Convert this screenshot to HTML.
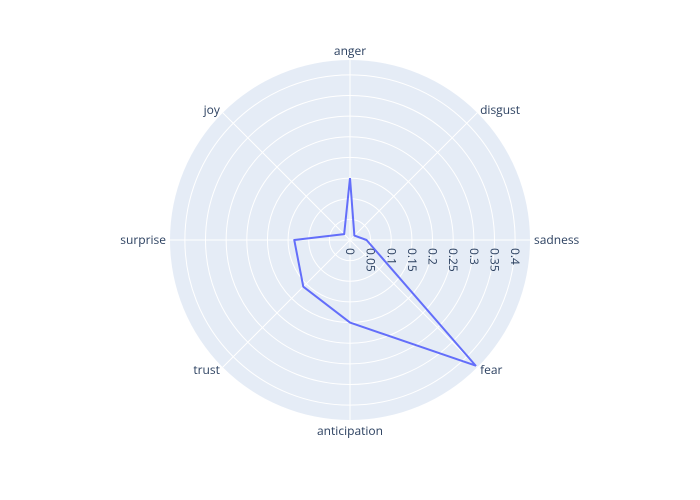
<!DOCTYPE html>
<html><head><meta charset="utf-8"><style>
body{margin:0;background:#fff;}
svg{display:block;font-family:"Open Sans","Liberation Sans",sans-serif;}
</style></head><body>
<svg id="chart" width="700" height="500"></svg>
<script>
const categories = ["anger","disgust","sadness","fear","anticipation","trust","surprise","joy"];
const values = [0.15,0.015,0.04,0.43,0.20,0.16,0.135,0.02];
const radialTicks = [0,0.05,0.1,0.15,0.2,0.25,0.3,0.35,0.4];
const tickLabels = ["0","0.05","0.1","0.15","0.2","0.25","0.3","0.35","0.4"];
const rMax = 0.436;

const NS="http://www.w3.org/2000/svg";
const svg=document.getElementById('chart');
const cx=350, cy=240, R=180;
function rScale(v){return v/rMax*R;}
function angle(i){return (90 - i*360/categories.length)*Math.PI/180;}
function pt(i,v){const a=angle(i),r=rScale(v);return [cx+r*Math.cos(a), cy-r*Math.sin(a)];}
function mk(tag,attrs){const e=document.createElementNS(NS,tag);for(const k in attrs)e.setAttribute(k,attrs[k]);svg.appendChild(e);return e;}

const bg=mk('circle',{cx:cx,cy:cy,r:R,fill:'#e5ecf6'});



radialTicks.forEach((t,i)=>{
  if(t===0)return;
  const c=mk('circle',{cx:cx,cy:cy,r:rScale(t),fill:'none',stroke:'#fff','stroke-width':1});
  
  
});
categories.forEach((c,i)=>{
  const [x,y]=pt(i,rMax);
  const l=mk('line',{x1:cx,y1:cy,x2:x,y2:y,stroke:'#fff','stroke-width':1});
  
  
  const a=angle(i);
  const lx=cx+(R+4)*Math.cos(a), ly=cy-(R+4)*Math.sin(a);
  const cosA=Math.cos(a), sinA=Math.sin(a);
  const anchor=Math.abs(cosA)<0.1?'middle':(cosA>0?'start':'end');
  const dy=sinA>0.9?-1:(sinA<-0.9?11:4);
  const t=mk('text',{x:lx,y:ly+dy,'text-anchor':anchor,'font-size':12,fill:'#2a3f5f'});
  t.textContent=c;
  
  
});
const ax=mk('line',{x1:cx,y1:cy,x2:cx+R,y2:cy,stroke:'#fff','stroke-width':1});



radialTicks.forEach((t,i)=>{
  const x=cx+rScale(t);
  const tx=mk('text',{x:0,y:0,'font-size':12,fill:'#2a3f5f',transform:`translate(${x-4},${cy+8}) rotate(90)`});
  tx.textContent=tickLabels[i];
  
  
});

const pts=values.map((v,i)=>pt(i,v));
pts.push(pts[0]);
const line=mk('polyline',{points:pts.map(p=>p.join(',')).join(' '),fill:'none',stroke:'#636efa','stroke-width':2,'stroke-linejoin':'round'});


</script>
</body></html>
